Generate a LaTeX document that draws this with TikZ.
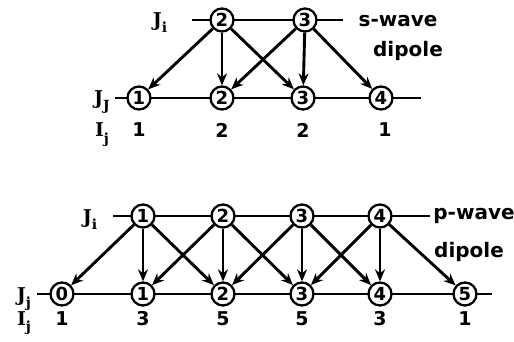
\documentclass[tikz,border=0pt]{standalone}
\usepackage{fontspec}
\newfontfamily\lblfont{DejaVu Sans}
\newfontfamily\jfont{DejaVu Serif}
\usetikzlibrary{arrows.meta}
\newcommand{\jlab}[2]{#1\raisebox{-6pt}{\fontsize{14}{14}\selectfont #2}}
\begin{document}
\begin{tikzpicture}[x=1pt,y=-1pt,
  st/.style={circle,draw,line width=2.3pt,fill=white,minimum size=23pt,inner sep=0pt,
    font=\lblfont\bfseries\fontsize{18}{18}\selectfont},
  hl/.style={line width=2.1pt},
  ar/.style={line width=2.9pt,-{Stealth[length=12pt,width=10pt]}},
  jl/.style={anchor=base,font=\jfont\bfseries\fontsize{19}{19}\selectfont},
  num/.style={font=\lblfont\bfseries\fontsize{19}{19}\selectfont},
  wv/.style={font=\lblfont\bfseries\fontsize{20}{20}\selectfont}]
\useasboundingbox (0,0) rectangle (514,342);
% ---------- s-wave ----------
\node[jl] (sJi) at (160,27) {\jlab{J}{i}};
\coordinate (sa) at (192,20);
\coordinate (sb) at (343,20);
\node[jl] (sJj) at (102,105) {\jlab{J}{J}};
\coordinate (sc) at (115,98);
\coordinate (sd) at (421,98);
\draw[hl] (sa) -- (sb);
\draw[hl] (sc) -- (sd);
\node[st] (t2) at (222,20) {2};
\node[st] (t3) at (305,20) {3};
\node[st] (b1) at (139,98) {1};
\node[st] (b2) at (222,98) {2};
\node[st] (b3) at (303,98) {3};
\node[st] (b4) at (381,98) {4};
\foreach \a/\b in {t2/b1,t2/b2,t2/b3,t3/b2,t3/b3,t3/b4}
  \draw[ar] (\a) -- (\b);
\node[wv] (sw) at (398,21) {s-wave};
\node[wv] (sd1) at (408,51) {dipole};
\node[jl] (sIj) at (102,137) {\jlab{I}{j}};
\node[num] (sn1) at (139,130) {1};
\node[num] (sn2) at (222,130) {2};
\node[num] (sn3) at (303,130) {2};
\node[num] (sn4) at (385,130) {1};
% ---------- p-wave ----------
\node[jl] (pJi) at (90,223) {\jlab{J}{i}};
\coordinate (pa) at (113,216);
\coordinate (pb) at (430,216);
\node[jl] (pJj) at (24,301) {\jlab{J}{j}};
\coordinate (pc) at (37,294);
\coordinate (pd) at (492,294);
\draw[hl] (pa) -- (pb);
\draw[hl] (pc) -- (pd);
\node[st] (p1) at (143,216) {1};
\node[st] (p2) at (223,216) {2};
\node[st] (p3) at (302,216) {3};
\node[st] (p4) at (380,216) {4};
\node[st] (q0) at (62,294) {0};
\node[st] (q1) at (143,294) {1};
\node[st] (q2) at (223,294) {2};
\node[st] (q3) at (302,294) {3};
\node[st] (q4) at (380,294) {4};
\node[st] (q5) at (465,294) {5};
\foreach \k/\l/\m/\n in {p1/q0/q1/q2,p2/q1/q2/q3,p3/q2/q3/q4,p4/q3/q4/q5}{
  \draw[ar] (\k) -- (\l);
  \draw[ar] (\k) -- (\m);
  \draw[ar] (\k) -- (\n);
}
\node[wv] (pw) at (474,216) {p-wave};
\node[wv] (pd1) at (469,252) {dipole};
\node[jl] (pIj) at (24,325) {\jlab{I}{j}};
\node[num] (pn0) at (62,319) {1};
\node[num] (pn1) at (143,319) {3};
\node[num] (pn2) at (223,319) {5};
\node[num] (pn3) at (302,319) {5};
\node[num] (pn4) at (380,319) {3};
\node[num] (pn5) at (465,319) {1};
\end{tikzpicture}
\end{document}
